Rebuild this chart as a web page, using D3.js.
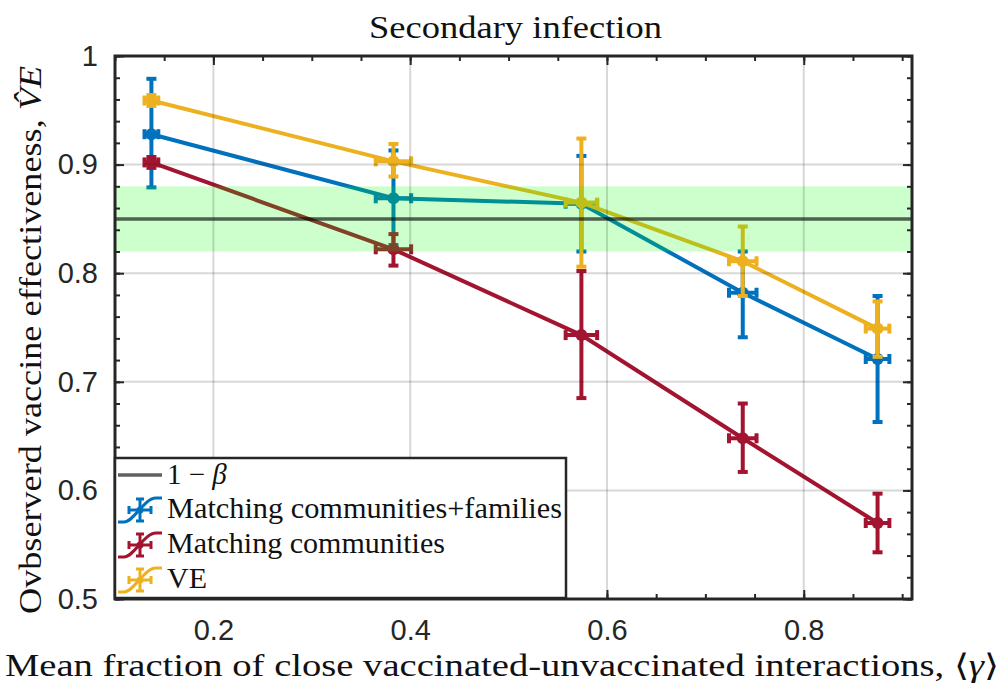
<!DOCTYPE html>
<html>
<head>
<meta charset="utf-8">
<script src="https://cdn.jsdelivr.net/npm/d3@7"></script>
<style>
  body { margin: 0; background: #fff; }
  svg { display: block; }
</style>
</head>
<body>
<svg id="chart"></svg>
<script>
// x positions (mean fraction <gamma>) and horizontal error
const xVals = [0.137, 0.383, 0.574, 0.738, 0.875];
const xErr  = [0.007, 0.018, 0.016, 0.014, 0.012];

// Matching communities+families
const famVals = [0.928, 0.869, 0.864, 0.782, 0.721];
const famLo   = [0.879, 0.826, 0.820, 0.741, 0.663];
const famHi   = [0.979, 0.913, 0.908, 0.820, 0.779];

// Matching communities
const comVals = [0.902, 0.822, 0.743, 0.648, 0.570];
const comLo   = [0.897, 0.807, 0.685, 0.617, 0.543];
const comHi   = [0.907, 0.836, 0.802, 0.680, 0.597];

// VE
const veVals = [0.959, 0.903, 0.865, 0.811, 0.749];
const veLo   = [0.954, 0.889, 0.806, 0.779, 0.723];
const veHi   = [0.964, 0.919, 0.924, 0.843, 0.774];

const beta1 = 0.85;          // 1 - beta
const bandRange = [0.82, 0.88];

const xTicks = [0.2, 0.4, 0.6, 0.8];
const yTicks = [0.5, 0.6, 0.7, 0.8, 0.9, 1];

const seriesNames = ["Matching communities+families", "Matching communities", "VE"];
const seriesColors = ["#0072BD", "#A2142F", "#EDB120"];

const SERIF = "'Liberation Serif', 'Times New Roman', Times, serif";
const SANS = "'Liberation Sans', Arial, Helvetica, sans-serif";

const W = 1004, H = 690;
const margin = {top: 56, right: 92, bottom: 91, left: 115};
const svg = d3.select("#chart").attr("width", W).attr("height", H);

const x = d3.scaleLinear().domain([0.1, 0.91]).range([margin.left, W - margin.right]);
const y = d3.scaleLinear().domain([0.5, 1]).range([H - margin.bottom, margin.top]);

const x0 = x.range()[0], x1 = x.range()[1];
const y0 = y.range()[0], y1 = y.range()[1];

svg.append("rect").attr("x", x0).attr("y", y1).attr("width", x1 - x0).attr("height", y0 - y1).attr("fill", "#fff");

// series
const series = [
  {vals: famVals, lo: famLo, hi: famHi},
  {vals: comVals, lo: comLo, hi: comHi},
  {vals: veVals, lo: veLo, hi: veHi}
];

const line = d3.line().x((d, i) => x(xVals[i])).y(d => y(d));
const cap = 5, lw = 4;

series.forEach((s, k) => {
  const g = svg.append("g").attr("stroke", seriesColors[k]).attr("fill", seriesColors[k]).attr("stroke-width", lw);
  g.append("path").datum(s.vals).attr("d", line).attr("fill", "none");
  s.vals.forEach((v, i) => {
    const cx = x(xVals[i]), cy = y(v);
    const yt = y(s.hi[i]), yb = y(s.lo[i]);
    const xl = x(xVals[i] - xErr[i]), xr = x(xVals[i] + xErr[i]);
    g.append("line").attr("x1", cx).attr("x2", cx).attr("y1", yt).attr("y2", yb);
    g.append("line").attr("x1", cx - cap).attr("x2", cx + cap).attr("y1", yt).attr("y2", yt);
    g.append("line").attr("x1", cx - cap).attr("x2", cx + cap).attr("y1", yb).attr("y2", yb);
    g.append("line").attr("x1", xl).attr("x2", xr).attr("y1", cy).attr("y2", cy);
    g.append("line").attr("x1", xl).attr("x2", xl).attr("y1", cy - cap).attr("y2", cy + cap);
    g.append("line").attr("x1", xr).attr("x2", xr).attr("y1", cy - cap).attr("y2", cy + cap);
    g.append("circle").attr("cx", cx).attr("cy", cy).attr("r", 6).attr("stroke", "none");
  });
});

// band (translucent, over the data) and 1 - beta line
svg.append("rect")
  .attr("x", x0).attr("width", x1 - x0)
  .attr("y", y(bandRange[1])).attr("height", y(bandRange[0]) - y(bandRange[1]))
  .attr("fill", "#00ff00").attr("fill-opacity", 0.2);
svg.append("line")
  .attr("x1", x0).attr("x2", x1).attr("y1", y(beta1)).attr("y2", y(beta1))
  .attr("stroke", "#000").attr("stroke-opacity", 0.62).attr("stroke-width", 3.5);

// grid
const grid = svg.append("g").attr("stroke", "#262626").attr("stroke-opacity", 0.18).attr("stroke-width", 2);
xTicks.forEach(t => grid.append("line").attr("x1", x(t)).attr("x2", x(t)).attr("y1", y0).attr("y2", y1));
yTicks.forEach(t => grid.append("line").attr("x1", x0).attr("x2", x1).attr("y1", y(t)).attr("y2", y(t)));

// axes (ticks inward on all sides)
const xMinor = d3.range(0.1, 0.9001, 0.05);
const yMinor = d3.range(0.5, 1.0001, 0.02);
const axStroke = "#262626";

svg.append("g").attr("transform", `translate(0,${y0})`)
  .call(d3.axisBottom(x).tickValues(xMinor).tickSize(-5).tickFormat(""));
svg.append("g").attr("transform", `translate(0,${y0})`)
  .call(d3.axisBottom(x).tickValues(xTicks).tickSize(-9).tickPadding(20).tickFormat(d3.format(".1f")));
svg.append("g").attr("transform", `translate(0,${y1})`)
  .call(d3.axisTop(x).tickValues(xMinor).tickSize(-5).tickFormat(""));
svg.append("g").attr("transform", `translate(0,${y1})`)
  .call(d3.axisTop(x).tickValues(xTicks).tickSize(-9).tickFormat(""));
svg.append("g").attr("transform", `translate(${x0},0)`)
  .call(d3.axisLeft(y).tickValues(yMinor).tickSize(-5).tickFormat(""));
svg.append("g").attr("transform", `translate(${x0},0)`)
  .call(d3.axisLeft(y).tickValues(yTicks).tickSize(-9).tickPadding(17).tickFormat(d => d === 1 ? "1" : d3.format(".1f")(d)));
svg.append("g").attr("transform", `translate(${x1},0)`)
  .call(d3.axisRight(y).tickValues(yMinor).tickSize(-5).tickFormat(""));
svg.append("g").attr("transform", `translate(${x1},0)`)
  .call(d3.axisRight(y).tickValues(yTicks).tickSize(-9).tickFormat(""));

svg.selectAll(".domain").remove();
svg.selectAll(".tick line").attr("stroke", axStroke).attr("stroke-width", 2);
svg.selectAll(".tick text").attr("font-family", SANS).attr("font-size", 29).attr("fill", "#262626");

svg.append("rect").attr("x", x0).attr("y", y1).attr("width", x1 - x0).attr("height", y0 - y1)
  .attr("fill", "none").attr("stroke", axStroke).attr("stroke-width", 3);

// title and axis labels
svg.append("text").attr("font-family", SERIF).attr("fill", "#111")
  .attr("x", (x0 + x1) / 2 + 2).attr("y", 38)
  .attr("text-anchor", "middle").attr("font-size", 32).attr("textLength", 293).attr("lengthAdjust", "spacingAndGlyphs")
  .text("Secondary infection");

const xl = svg.append("text").attr("font-family", SERIF).attr("fill", "#111").attr("x", 502).attr("y", 676)
  .attr("text-anchor", "middle").attr("font-size", 31).attr("textLength", 994).attr("lengthAdjust", "spacingAndGlyphs");
xl.append("tspan").text("Mean fraction of close vaccinated-unvaccinated interactions, ⟨");
xl.append("tspan").attr("font-style", "italic").text("γ");
xl.append("tspan").text("⟩");

const yl = svg.append("text").attr("font-family", SERIF).attr("fill", "#111")
  .attr("transform", "translate(41,340) rotate(-90)")
  .attr("text-anchor", "middle").attr("font-size", 31).attr("textLength", 548).attr("lengthAdjust", "spacingAndGlyphs");
yl.append("tspan").text("Ovbserverd vaccine effectiveness, ");
yl.append("tspan").attr("font-style", "italic").text("V\u0302E");

// legend
const lg = svg.append("g");
lg.append("rect").attr("x", 115).attr("y", 458).attr("width", 451).attr("height", 140)
  .attr("fill", "#fff").attr("stroke", axStroke).attr("stroke-width", 2.5);

const rowY = [475, 510, 545, 580];
lg.append("line").attr("x1", 118).attr("x2", 162).attr("y1", rowY[0]).attr("y2", rowY[0])
  .attr("stroke", "#000").attr("stroke-opacity", 0.62).attr("stroke-width", 3.5);
const l1 = lg.append("text").attr("font-family", SERIF).attr("fill", "#111").attr("x", 167).attr("y", rowY[0] + 9).attr("font-size", 29);
l1.append("tspan").text("1 − ");
l1.append("tspan").attr("font-style", "italic").text("β");

seriesNames.forEach((name, k) => {
  const cy = rowY[k + 1], cx = 140, c = seriesColors[k];
  const g = lg.append("g").attr("stroke", c).attr("fill", "none").attr("stroke-width", 3);
  g.append("path").attr("d", `M118,${cy + 12} L124,${cy + 12} C134,${cy + 12} 144,${cy - 12} 156,${cy - 12} L162,${cy - 12}`);
  g.append("line").attr("x1", cx).attr("x2", cx).attr("y1", cy - 11).attr("y2", cy + 11);
  g.append("line").attr("x1", cx - 4).attr("x2", cx + 4).attr("y1", cy - 11).attr("y2", cy - 11);
  g.append("line").attr("x1", cx - 4).attr("x2", cx + 4).attr("y1", cy + 11).attr("y2", cy + 11);
  g.append("line").attr("x1", cx - 11).attr("x2", cx + 11).attr("y1", cy).attr("y2", cy);
  g.append("line").attr("x1", cx - 11).attr("x2", cx - 11).attr("y1", cy - 4).attr("y2", cy + 4);
  g.append("line").attr("x1", cx + 11).attr("x2", cx + 11).attr("y1", cy - 4).attr("y2", cy + 4);
  g.append("circle").attr("cx", cx).attr("cy", cy).attr("r", 3.5).attr("fill", c).attr("stroke", "none");
  const t = lg.append("text").attr("font-family", SERIF).attr("fill", "#111").attr("x", 167).attr("y", cy + 8).attr("font-size", 29).text(name);
  if (k === 0) t.attr("textLength", 395).attr("lengthAdjust", "spacingAndGlyphs");
  if (k === 1) t.attr("textLength", 278).attr("lengthAdjust", "spacingAndGlyphs");
  if (k === 2) t.attr("textLength", 40).attr("lengthAdjust", "spacingAndGlyphs");
});
</script>
</body>
</html>
